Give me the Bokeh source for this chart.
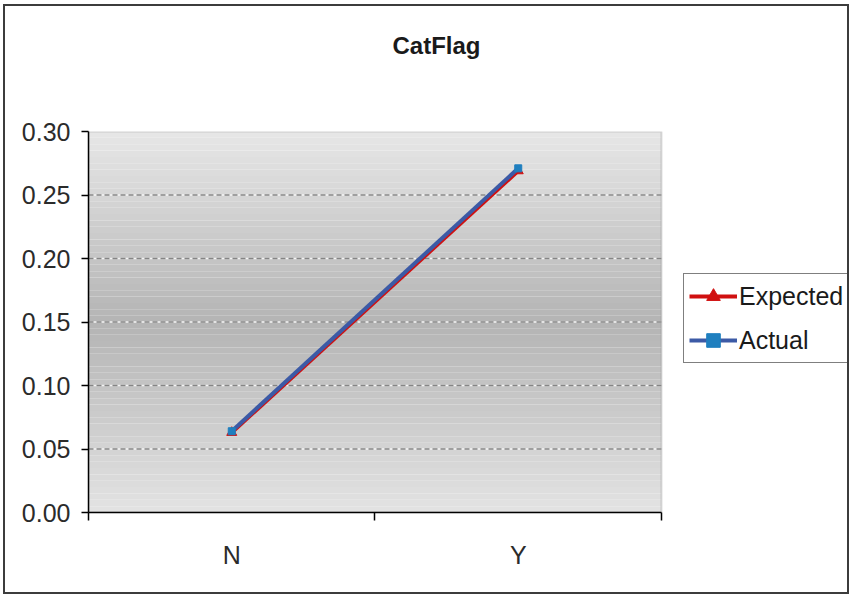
from bokeh.plotting import figure
from bokeh.layouts import column
from bokeh.models import (Range1d, FixedTicker, BoxAnnotation, Legend,
                          LegendItem, NumeralTickFormatter, Title)
from bokeh.embed import file_html
from bokeh.resources import INLINE

# Chart data
categories = ["N", "Y"]
expected = [0.063, 0.269]
actual = [0.064, 0.271]
y_ticks = [0.00, 0.05, 0.10, 0.15, 0.20, 0.25, 0.30]

x_pos = [i + 0.5 for i in range(len(categories))]
n_cat = len(categories)

FONT = "Liberation Sans"

# The frame also covers the legend strip to the right of the plot area;
# the plot area itself spans x = 0 .. n_cat (576 px of the 763 px frame).
PLOT_PX = 576
FRAME_PX = 763
x_end = n_cat * FRAME_PX / PLOT_PX

p = figure(frame_width=FRAME_PX, frame_height=385, output_backend="svg",
           toolbar_location=None,
           x_range=Range1d(0, x_end), y_range=Range1d(y_ticks[0], y_ticks[-1]),
           min_border_left=83, min_border_right=0, min_border_top=125,
           min_border_bottom=80, background_fill_color="white",
           border_fill_color="white")
p.outline_line_color = None
p.grid.visible = False

# Heading
p.title.text = "CatFlag"
p.title.text_font = FONT
p.title.text_font_size = "24px"
p.title.text_font_style = "bold"
p.title.text_color = "#1a1a1a"
p.title.align = "left"
p.title.offset = 304
p.title.standoff = 0

# Spacer between the heading and the plot area
p.add_layout(Title(text=" ", text_font_size="1px", standoff=70), "above")

# Vertical light-dark-light gradient in the plot area
n_bands = 60
top_c, mid_c, bot_c = 0xe7, 0xb4, 0xe3
y0, y1 = y_ticks[0], y_ticks[-1]
for k in range(n_bands):
    b = y0 + (y1 - y0) * k / n_bands
    t = y0 + (y1 - y0) * (k + 1) / n_bands
    f = (k + 0.5) / n_bands
    if f < 0.5:
        g = bot_c + (mid_c - bot_c) * (f / 0.5)
    else:
        g = mid_c + (top_c - mid_c) * ((f - 0.5) / 0.5)
    g = int(round(g))
    col = "#%02x%02x%02x" % (g, g, g)
    p.add_layout(BoxAnnotation(left=0, right=n_cat, bottom=b, top=t,
                               fill_color=col, fill_alpha=1.0, line_alpha=0,
                               level="underlay"))

# Plot-area border (top and right show; left and bottom lie under the axes)
p.add_layout(BoxAnnotation(left=0, right=n_cat, bottom=y0, top=y1,
                           fill_alpha=0, line_color="#8a8a8a", line_width=2,
                           level="underlay"))

# Dashed gridlines with light gaps
grid_y = y_ticks[1:-1]
p.segment(x0=[0] * len(grid_y), x1=[n_cat] * len(grid_y), y0=grid_y, y1=grid_y,
          line_color="#f4f4f4", line_width=1.5)
p.segment(x0=[0] * len(grid_y), x1=[n_cat] * len(grid_y), y0=grid_y, y1=grid_y,
          line_color="#858585", line_width=1.5, line_dash="5 3")

# Y axis
yax = p.yaxis[0]
yax.ticker = FixedTicker(ticks=y_ticks)
yax.formatter = NumeralTickFormatter(format="0.00")
yax.axis_line_color = "black"
yax.axis_line_width = 1.5
yax.major_tick_line_color = "black"
yax.major_tick_line_width = 1.5
yax.major_tick_out = 7
yax.major_tick_in = 0
yax.minor_tick_line_color = None
yax.major_label_text_font = FONT
yax.major_label_text_font_size = "25px"
yax.major_label_text_color = "#2b2b2b"
yax.major_label_standoff = 11

# X axis: category labels centred, ticks on category boundaries
xax = p.xaxis[0]
xax.bounds = (0, n_cat)
xax.ticker = FixedTicker(ticks=x_pos, minor_ticks=list(range(n_cat + 1)))
xax.major_label_overrides = {x: c for x, c in zip(x_pos, categories)}
xax.axis_line_color = "black"
xax.axis_line_width = 1.5
xax.major_tick_line_color = None
xax.major_tick_out = 0
xax.major_tick_in = 0
xax.minor_tick_line_color = "black"
xax.minor_tick_line_width = 1.5
xax.minor_tick_out = 8
xax.minor_tick_in = 0
xax.major_label_text_font = FONT
xax.major_label_text_font_size = "25px"
xax.major_label_text_color = "#2b2b2b"
xax.major_label_standoff = 20

# Series
red = "#d01010"
blue = "#3c5aa6"
l_exp = p.line(x_pos, expected, line_color=red, line_width=4)
m_exp = p.scatter(x_pos, expected, marker="triangle", size=10, fill_color=red,
                  line_color=red)
l_act = p.line(x_pos, actual, line_color=blue, line_width=4)
m_act = p.scatter(x_pos, actual, marker="square", size=7, fill_color="#1f7fbf",
                  line_color="#1f7fbf")

legend = Legend(items=[LegendItem(label="Expected", renderers=[l_exp, m_exp]),
                       LegendItem(label="Actual", renderers=[l_act, m_act])],
                location=(595, 149), orientation="vertical")
legend.label_text_font = FONT
legend.label_text_font_size = "25px"
legend.label_text_color = "#1a1a1a"
legend.border_line_color = "black"
legend.border_line_width = 1.5
legend.background_fill_color = "white"
legend.background_fill_alpha = 1.0
legend.padding = 5
legend.margin = 0
legend.spacing = 10
legend.glyph_width = 48
legend.glyph_height = 34
legend.label_height = 34
legend.label_standoff = 2
p.add_layout(legend, "center")

# Framed chart area
chart = column(p, width=846, height=590, sizing_mode="fixed",
               styles={"border": "2px solid #3c3c3c", "overflow": "hidden",
                       "margin-left": "3px", "margin-top": "4px"})

open("out.html", "w").write(file_html(chart, INLINE))
